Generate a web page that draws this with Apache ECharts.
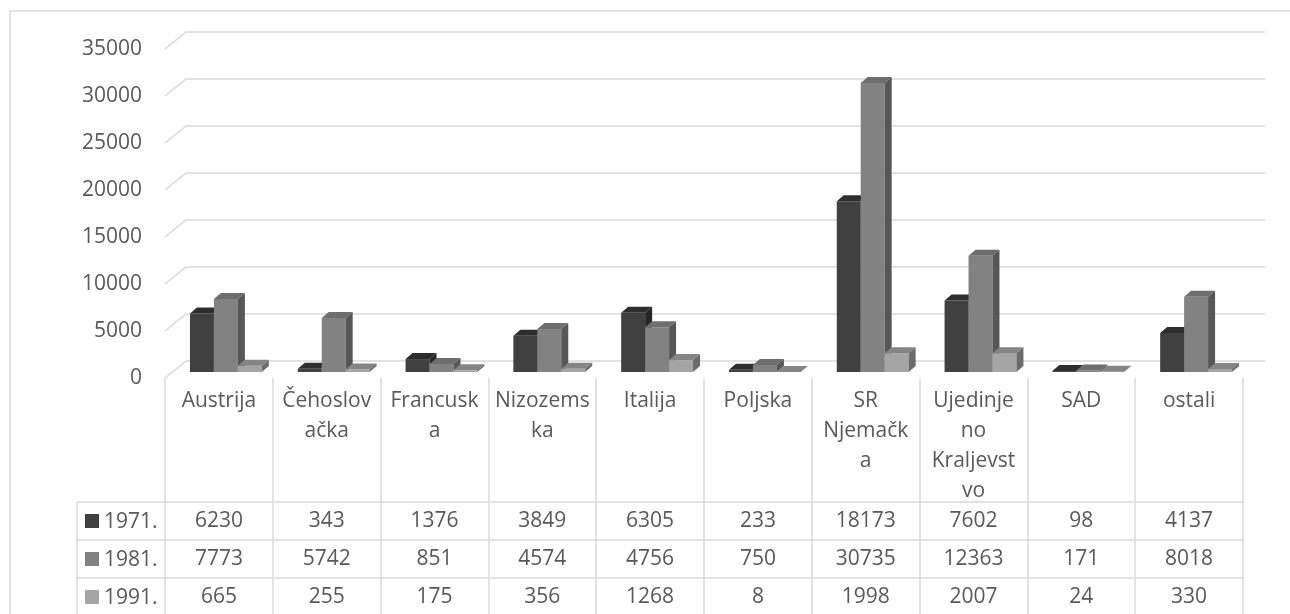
<!DOCTYPE html>
<html>
<head>
<meta charset="utf-8">
<script src="https://cdn.jsdelivr.net/npm/echarts@6/dist/echarts.min.js"></script>
<style>
html,body{margin:0;padding:0;background:#fff;}
#chart{width:1290px;height:614px;}
</style>
</head>
<body>
<div id="chart"></div>
<script>
// ---- data ----
const categories = ['Austrija', 'Čehoslovačka', 'Francuska', 'Nizozemska', 'Italija', 'Poljska', 'SR Njemačka', 'Ujedinjeno Kraljevstvo', 'SAD', 'ostali'];
const categoryLabels = ['Austrija', 'Čehoslov\načka', 'Francusk\na', 'Nizozems\nka', 'Italija', 'Poljska', 'SR\nNjemačk\na', 'Ujedinje\nno\nKraljevst\nvo', 'SAD', 'ostali'];
const seriesNames = ['1971.', '1981.', '1991.'];
const values1971 = [6230, 343, 1376, 3849, 6305, 233, 18173, 7602, 98, 4137];
const values1981 = [7773, 5742, 851, 4574, 4756, 750, 30735, 12363, 171, 8018];
const values1991 = [665, 255, 175, 356, 1268, 8, 1998, 2007, 24, 330];
const yTicks = [0, 5000, 10000, 15000, 20000, 25000, 30000, 35000];

// ---- styles ----
const FONT = 'Open Sans';
const TEXT = '#595959';
const LINE = '#d9d9d9';
const shades = [
  { front: '#404040', top: '#2e2e2e', side: '#262626' },
  { front: '#828282', top: '#6e6e6e', side: '#575757' },
  { front: '#a5a5a5', top: '#858585', side: '#6b6b6b' }
];
const allValues = [values1971, values1981, values1991];

const chart = echarts.init(document.getElementById('chart'), null, { renderer: 'canvas' });

function barRender(k) {
  const c = shades[k];
  return function (params, api) {
    const i = api.value(0), v = api.value(1);
    const top = api.coord([i, v]);
    const base = api.coord([i, 0]);
    const catW = api.size([1, 0])[0];
    const w = catW / 4.5;
    const dx = 7, dy = 6;   // bar depth
    const sx = 7, sy = 6;   // plane offset of the bar row
    const x0 = top[0] - 1.5 * w + k * w + sx;
    const yT = top[1] - sy, yB = base[1] - sy;
    return {
      type: 'group',
      children: [
        { type: 'rect', shape: { x: x0, y: yT, width: w, height: yB - yT }, style: { fill: c.front } },
        { type: 'polygon', shape: { points: [[x0, yT], [x0 + w, yT], [x0 + w + dx, yT - dy], [x0 + dx, yT - dy]] }, style: { fill: c.top } },
        { type: 'polygon', shape: { points: [[x0 + w, yT], [x0 + w + dx, yT - dy], [x0 + w + dx, yB - dy], [x0 + w, yB]] }, style: { fill: c.side } }
      ]
    };
  };
}

function gridRender(params, api) {
  const v = api.value(1);
  const p = api.coord([0, v]);
  const catW = api.size([1, 0])[0];
  const left = p[0] - catW / 2;
  const right = api.coord([categories.length - 1, v])[0] + catW / 2;
  return {
    type: 'polyline',
    shape: { points: [[left, p[1]], [left + 21, p[1] - 17], [right + 22, p[1] - 17]] },
    style: { stroke: LINE, lineWidth: 1.5, fill: null }
  };
}

function tableRender(params, api) {
  const i = api.value(0);
  const base = api.coord([i, 0]);
  const children = [];
  for (let k = 0; k < 3; k++) {
    children.push({
      type: 'text',
      style: {
        text: String(api.value(1 + k)),
        x: base[0], y: base[1] + 143 + 38 * k,
        align: 'center', verticalAlign: 'middle',
        fontFamily: FONT, fontSize: 21, fill: TEXT
      }
    });
  }
  return { type: 'group', children: children };
}

const series = [
  {
    type: 'custom', name: 'grid', z: 1, silent: true, clip: false,
    renderItem: gridRender,
    data: yTicks.map(v => [0, v])
  }
];
for (let k = 0; k < 3; k++) {
  series.push({
    type: 'custom', name: seriesNames[k], z: 2 + k, silent: true, clip: false,
    renderItem: barRender(k),
    data: allValues[k].map((v, i) => [i, v])
  });
}
series.push({
  type: 'custom', name: 'table', z: 10, silent: true, clip: false,
  renderItem: tableRender,
  dimensions: ['i', 'a', 'b', 'c'],
  encode: { x: 0, y: 1 },
  data: categories.map((c, i) => [i, values1971[i], values1981[i], values1991[i]])
});

// table frame (layout) + legend keys
const tableTop = 502, rowH = 38, keyLeft = 77, tableRight = 1243;
const graphics = [
  { type: 'rect', shape: { x: 10, y: 11, width: 1300, height: 700 }, style: { fill: null, stroke: LINE, lineWidth: 1.5 }, z: 0 },
  { type: 'line', shape: { x1: keyLeft, y1: tableTop, x2: keyLeft, y2: 614 }, style: { stroke: LINE, lineWidth: 1.5 } }
];
for (let r = 0; r < 3; r++) {
  const y = tableTop + r * rowH;
  graphics.push({ type: 'line', shape: { x1: keyLeft, y1: y, x2: tableRight, y2: y }, style: { stroke: LINE, lineWidth: 1.5 } });
  graphics.push({ type: 'rect', shape: { x: 85, y: y + rowH / 2 - 7, width: 14, height: 14 }, style: { fill: shades[r].front } });
  graphics.push({ type: 'text', style: { text: seriesNames[r], x: 104, y: y + rowH / 2 + 1, verticalAlign: 'middle', fontFamily: FONT, fontSize: 21, fill: TEXT } });
}

chart.setOption({
  animation: false,
  backgroundColor: '#ffffff',
  grid: { left: 165, right: 47, top: 49, bottom: 236 },
  xAxis: {
    type: 'category',
    data: categories,
    boundaryGap: true,
    axisLine: { show: false },
    axisTick: { show: true, interval: 0, length: 240, lineStyle: { color: LINE, width: 1.5 } },
    axisLabel: {
      interval: 0, margin: 8, lineHeight: 30,
      fontFamily: FONT, fontSize: 21, color: TEXT,
      formatter: (val, idx) => categoryLabels[idx]
    },
    splitLine: { show: false }
  },
  yAxis: {
    type: 'value',
    min: 0, max: 35000, interval: 5000,
    axisLine: { show: false },
    axisTick: { show: false },
    splitLine: { show: false },
    axisLabel: { margin: 23, fontFamily: FONT, fontSize: 21, color: TEXT, formatter: v => String(v) }
  },
  graphic: graphics,
  series: series
});
</script>
</body>
</html>
